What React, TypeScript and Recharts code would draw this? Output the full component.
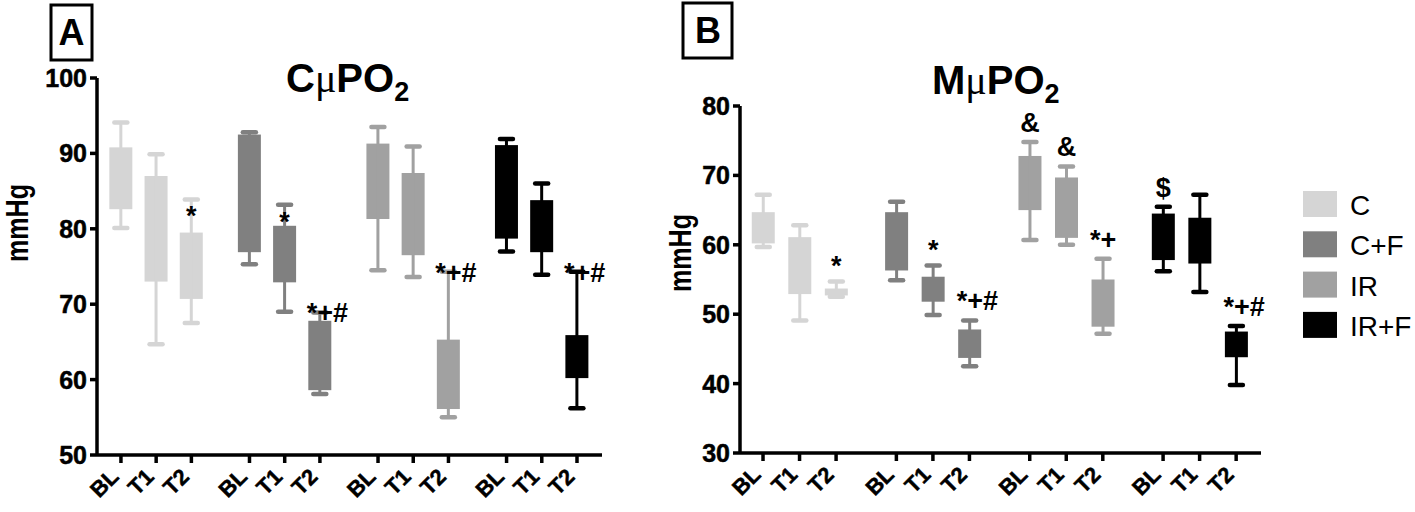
import React from "react";
import { ComposedChart, Bar, XAxis, YAxis } from "recharts";

const timepoints = ["BL", "T1", "T2"];
const groups = ["C", "C+F", "IR", "IR+F"];
const groupColors = ["#d5d5d5", "#808080", "#a1a1a1", "#000000"];

// CµPO2 (panel A) — order: C BL,T1,T2 | C+F | IR | IR+F
const cMin = [80.1, 64.7, 67.5, 75.3, 69.0, 58.1, 74.5, 73.6, 55.0, 77.0, 73.9, 56.2];
const cQ1 = [82.6, 73.0, 70.7, 76.9, 72.9, 58.6, 81.3, 76.5, 56.1, 78.7, 76.9, 60.2];
const cQ3 = [90.8, 87.0, 79.5, 92.5, 80.4, 67.8, 91.3, 87.4, 65.3, 91.1, 83.8, 65.9];
const cMax = [94.1, 89.9, 83.9, 92.8, 83.2, 68.9, 93.5, 90.9, 74.3, 91.9, 86.0, 74.3];
const cMarks = ["", "", "*", "", "*", "*+#", "", "", "*+#", "", "", "*+#"];
const cTicks = [50, 60, 70, 80, 90, 100];

// MµPO2 (panel B)
const mMin = [59.7, 49.1, 52.5, 54.9, 49.9, 42.5, 60.7, 60.0, 47.2, 56.2, 53.2, 39.8];
const mQ1 = [60.2, 52.9, 52.7, 56.3, 51.8, 43.7, 65.0, 61.0, 48.2, 57.8, 57.3, 43.8];
const mQ3 = [64.7, 61.1, 53.7, 64.7, 55.4, 47.8, 72.8, 69.7, 55.0, 64.5, 63.9, 47.5];
const mMax = [67.2, 62.8, 54.7, 66.2, 57.0, 49.1, 74.8, 71.3, 58.0, 65.5, 67.2, 48.3];
const mMarks = ["", "", "*", "", "*", "*+#", "&", "&", "*+", "$", "", "*+#"];
const mTicks = [30, 40, 50, 60, 70, 80];

const GROUP_STRIDE = 3.65;
const FONT = "'Liberation Sans', Arial, sans-serif";

const buildRows = (mins: number[], q1s: number[], q3s: number[], maxs: number[], marks: string[]) =>
  mins.map((lo, k) => ({
    pos: Math.floor(k / 3) * GROUP_STRIDE + (k % 3),
    group: Math.floor(k / 3),
    time: timepoints[k % 3],
    whisker: [lo, maxs[k]],
    box: [q1s[k], q3s[k]],
    mark: marks[k],
  }));

const rowsA = buildRows(cMin, cQ1, cQ3, cMax, cMarks);
const rowsB = buildRows(mMin, mQ1, mQ3, mMax, mMarks);

const BoxShape = (props: any) => {
  const { x, y, width, height, payload } = props;
  const top = Math.min(y, y + height);
  const h = Math.abs(height);
  return <rect x={x} y={top} width={width} height={h} fill={groupColors[payload.group]} />;
};

const WhiskerShape = (props: any) => {
  const { x, y, width, height, payload, dyStar, dyMark } = props;
  const top = Math.min(y, y + height);
  const bottom = Math.max(y, y + height);
  const cx = x + width / 2;
  const color = groupColors[payload.group];
  const mark: string = payload.mark;
  return (
    <g>
      <line x1={cx} x2={cx} y1={top} y2={bottom} stroke={color} strokeWidth={3} />
      <line x1={x} x2={x + width} y1={top} y2={top} stroke={color} strokeWidth={4.5} strokeLinecap="round" />
      <line x1={x} x2={x + width} y1={bottom} y2={bottom} stroke={color} strokeWidth={4.5} strokeLinecap="round" />
      {mark && (
        <text
          x={mark.length > 1 ? cx - 13 : cx}
          y={top + (mark === "*" ? dyStar : dyMark)}
          textAnchor={mark.length > 1 ? "start" : "middle"}
          fontSize={27}
          fontWeight={700}
          fontFamily={FONT}
          fill="#000"
        >
          {mark}
        </text>
      )}
    </g>
  );
};

const TimeTick = (props: any) => {
  const { x, y, index } = props;
  return (
    <text
      transform={`translate(${x - 1},${y + 13}) rotate(-45)`}
      textAnchor="end"
      fontSize={22}
      fontWeight={700}
      fontFamily={FONT}
      fill="#000"
      stroke="#000"
      strokeWidth={0.5}
    >
      {timepoints[index % 3]}
    </text>
  );
};

const ValueTick = (props: any) => {
  const { x, y, payload } = props;
  return (
    <text
      x={x}
      y={y}
      dy={9}
      textAnchor="end"
      fontSize={25}
      fontWeight={700}
      fontFamily={FONT}
      fill="#000"
      stroke="#000"
      strokeWidth={0.5}
    >
      {payload.value}
    </text>
  );
};

interface PanelProps {
  rows: ReturnType<typeof buildRows>;
  yTicks: number[];
  width: number;
  top: number;
  bottom: number;
  right: number;
  yAxisWidth: number;
  domainX: [number, number];
  dyStar: number;
  dyMark: number;
}

const BoxPanel = ({ rows, yTicks, width, top, bottom, right, yAxisWidth, domainX, dyStar, dyMark }: PanelProps) => {
  const axisStyle = { stroke: "#000", strokeWidth: 3.5 };
  return (
    <ComposedChart width={width} height={512} data={rows} margin={{ top, right, bottom: 0, left: 0 }}>
      <XAxis
        xAxisId="box"
        type="number"
        dataKey="pos"
        domain={domainX}
        ticks={rows.map((r) => r.pos)}
        interval={0}
        tick={<TimeTick />}
        axisLine={axisStyle}
        tickLine={axisStyle}
        tickSize={8}
        height={512 - bottom}
      />
      <XAxis xAxisId="whisker" type="number" dataKey="pos" domain={domainX} hide />
      <YAxis
        type="number"
        domain={[yTicks[0], yTicks[yTicks.length - 1]]}
        ticks={yTicks}
        interval={0}
        width={yAxisWidth}
        axisLine={axisStyle}
        tickLine={axisStyle}
        tickSize={7}
        tickMargin={3}
        tick={<ValueTick />}
      />
      <Bar xAxisId="box" dataKey="box" barSize={23} shape={<BoxShape />} isAnimationActive={false} />
      <Bar
        xAxisId="whisker"
        dataKey="whisker"
        barSize={13}
        shape={(p: any) => <WhiskerShape {...p} dyStar={dyStar} dyMark={dyMark} />}
        isAnimationActive={false}
      />
    </ComposedChart>
  );
};

const Title = ({ x, y, lead }: { x: number; y: number; lead: string }) => (
  <text x={x} y={y} fontSize={40} fontFamily={FONT} fill="#000">
    <tspan fontWeight={700}>{lead}</tspan>
    <tspan fontFamily="'Liberation Serif', 'DejaVu Serif', serif">μ</tspan>
    <tspan fontWeight={700}>PO</tspan>
    <tspan fontWeight={700} fontSize={27} dy={9}>2</tspan>
  </text>
);

const AxisTitle = ({ x, y }: { x: number; y: number }) => (
  <text
    transform={`translate(${x},${y}) rotate(-90)`}
    textAnchor="middle"
    fontSize={32}
    fontWeight={700}
    fontFamily={FONT}
    textLength={78}
    lengthAdjust="spacingAndGlyphs"
  >
    mmHg
  </text>
);

export default function App() {
  return (
    <div style={{ position: "absolute", left: 0, top: 0, width: 1415, height: 512, background: "#fff" }}>
      <div style={{ position: "absolute", left: 0, top: 0 }}>
        <BoxPanel
          rows={rowsA}
          yTicks={cTicks}
          width={620}
          top={78}
          bottom={455}
          right={18}
          yAxisWidth={97}
          domainX={[-0.68, 13.66]}
          dyStar={26}
          dyMark={10}
        />
      </div>
      <div style={{ position: "absolute", left: 640, top: 0 }}>
        <BoxPanel
          rows={rowsB}
          yTicks={mTicks}
          width={631}
          top={106}
          bottom={453}
          right={10}
          yAxisWidth={100}
          domainX={[-0.63, 13.63]}
          dyStar={-7}
          dyMark={-10}
        />
      </div>
      <svg width={1415} height={512} style={{ position: "absolute", left: 0, top: 0, pointerEvents: "none" }}>
        {/* panel letters */}
        <rect x={51} y={5} width={41} height={55} fill="none" stroke="#000" strokeWidth={3} />
        <text x={71.5} y={45} textAnchor="middle" fontSize={36} fontWeight={700} fontFamily={FONT}>A</text>
        <rect x={683} y={3} width={49} height={55} fill="none" stroke="#000" strokeWidth={3} />
        <text x={708} y={43} textAnchor="middle" fontSize={36} fontWeight={700} fontFamily={FONT}>B</text>

        <Title x={286} y={92} lead="C" />
        <Title x={932} y={94} lead="M" />

        <AxisTitle x={28} y={223} />
        <AxisTitle x={691} y={253} />

        {/* legend */}
        {groups.map((g, i) => (
          <g key={g}>
            <rect x={1303} y={191 + i * 40.3} width={34} height={26} fill={groupColors[i]} />
            <text x={1350} y={215 + i * 40.3} fontSize={28} fontFamily={FONT} fill="#000">{g}</text>
          </g>
        ))}
      </svg>
    </div>
  );
}
